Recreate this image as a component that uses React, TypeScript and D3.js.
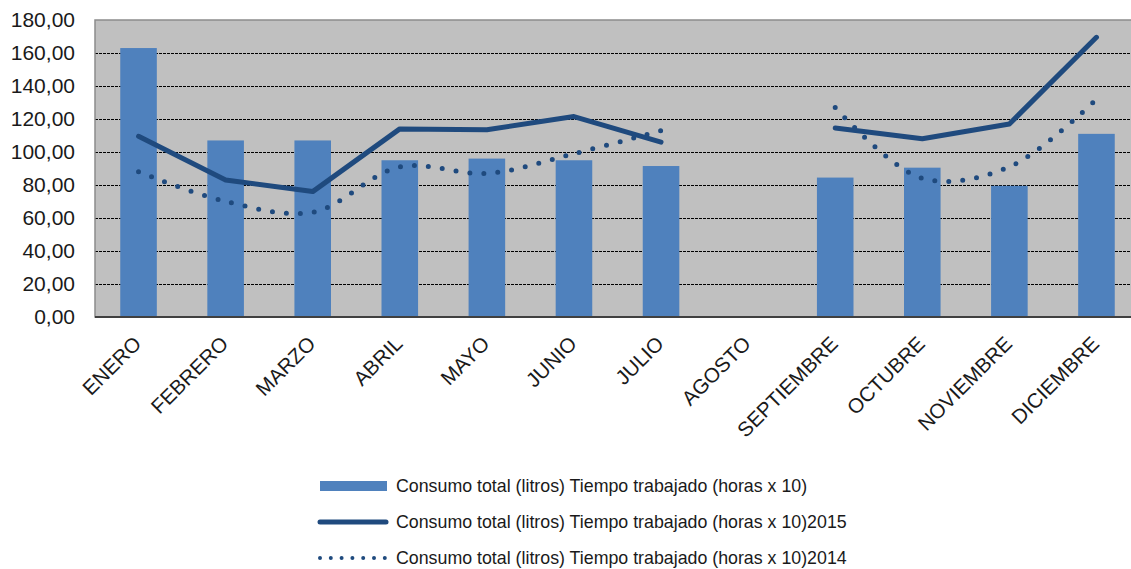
import React, { useEffect, useRef } from 'react';
import * as d3 from 'd3';

const months = [
  'ENERO', 'FEBRERO', 'MARZO', 'ABRIL', 'MAYO', 'JUNIO',
  'JULIO', 'AGOSTO', 'SEPTIEMBRE', 'OCTUBRE', 'NOVIEMBRE', 'DICIEMBRE',
];
const consumo: (number | null)[] = [163, 107, 107, 95, 96, 95, 91.5, null, 84.5, 90.5, 79.5, 111];
const serie2015: (number | null)[] = [109.5, 83, 76, 114, 113.5, 121.5, 106, null, 114.5, 108, 117, 169.5];
const serie2014: (number | null)[] = [88, 70, 63.5, 91, 87, 99, 113, null, 127, 84, 91, 132];
const yTicks = [0, 20, 40, 60, 80, 100, 120, 140, 160, 180];
const legendLabels = [
  'Consumo total (litros) Tiempo trabajado (horas x 10)',
  'Consumo total (litros) Tiempo trabajado (horas x 10)2015',
  'Consumo total (litros) Tiempo trabajado (horas x 10)2014',
];

const W = 1131;
const H = 569;
const BAR = '#4F81BD';
const LINE = '#1F4A7E';
const FONT = 'Arial, Liberation Sans, sans-serif';

export default function App() {
  const ref = useRef<SVGSVGElement>(null);

  useEffect(() => {
    const margin = { top: 20, left: 95 };
    const width = 1045; // plot runs a little past the right edge
    const height = 297;

    const root = d3.select(ref.current);
    root.selectAll('*').remove();

    const svg = root.append('g').attr('transform', `translate(${margin.left},${margin.top})`);

    const x = d3.scaleBand().domain(months).range([0, width]).paddingInner(0.58).paddingOuter(0.29);
    const xc = (i: number) => (x(months[i]) as number) + x.bandwidth() / 2;
    const y = d3.scaleLinear().domain([0, 180]).range([height, 0]);

    svg.append('rect').attr('width', width).attr('height', height).attr('fill', '#C0C0C0');

    // gridlines
    svg
      .selectAll('line.grid')
      .data(yTicks.filter((t) => t > 0 && t < 180))
      .enter()
      .append('line')
      .attr('class', 'grid')
      .attr('x1', 0)
      .attr('x2', width)
      .attr('y1', (d) => y(d) + 0.5)
      .attr('y2', (d) => y(d) + 0.5)
      .attr('stroke', '#000')
      .attr('stroke-width', 1)
      .attr('stroke-dasharray', '3,1');

    // bars
    svg
      .selectAll('rect.bar')
      .data(consumo.map((v, i) => ({ v, i })).filter((d) => d.v != null))
      .enter()
      .append('rect')
      .attr('class', 'bar')
      .attr('x', (d) => x(months[d.i]) as number)
      .attr('width', x.bandwidth())
      .attr('y', (d) => y(d.v as number))
      .attr('height', (d) => height - y(d.v as number))
      .attr('fill', BAR);

    const lineGen = d3
      .line<number | null>()
      .defined((d) => d != null)
      .x((_, i) => xc(i))
      .y((d) => y(d as number));

    svg
      .append('path')
      .attr('d', lineGen.curve(d3.curveCatmullRom.alpha(0.5))(serie2014))
      .attr('fill', 'none')
      .attr('stroke', LINE)
      .attr('stroke-width', 5)
      .attr('stroke-linecap', 'round')
      .attr('stroke-dasharray', '0,14');

    svg
      .append('path')
      .attr('d', lineGen.curve(d3.curveLinear)(serie2015))
      .attr('fill', 'none')
      .attr('stroke', LINE)
      .attr('stroke-width', 5)
      .attr('stroke-linecap', 'round')
      .attr('stroke-linejoin', 'round');

    // frame
    svg
      .append('rect')
      .attr('width', width)
      .attr('height', height)
      .attr('fill', 'none')
      .attr('stroke', '#8C8C8C')
      .attr('stroke-width', 1.5);
    svg
      .append('line')
      .attr('x1', 0)
      .attr('x2', width)
      .attr('y1', height)
      .attr('y2', height)
      .attr('stroke', '#404040')
      .attr('stroke-width', 2);

    // y labels
    svg
      .selectAll('text.ylab')
      .data(yTicks)
      .enter()
      .append('text')
      .attr('class', 'ylab')
      .attr('x', -20)
      .attr('y', (d) => y(d))
      .attr('dy', '0.35em')
      .attr('text-anchor', 'end')
      .attr('font-family', FONT)
      .attr('font-size', 21)
      .attr('fill', '#1a1a1a')
      .text((d) => d3.format('.2f')(d).replace('.', ','));

    // x labels
    svg
      .selectAll('text.xlab')
      .data(months)
      .enter()
      .append('text')
      .attr('class', 'xlab')
      .attr('transform', (_, i) => `translate(${xc(i) + 4},${height + 28}) rotate(-45)`)
      .attr('text-anchor', 'end')
      .attr('font-family', FONT)
      .attr('font-size', 20.5)
      .attr('fill', '#1a1a1a')
      .text((d) => d);

    // legend
    const lg = root.append('g');
    const rows = [486, 522, 558];
    legendLabels.forEach((label, i) => {
      const ly = rows[i];
      if (i === 0) {
        lg.append('rect').attr('x', 320).attr('y', ly - 5).attr('width', 67).attr('height', 10).attr('fill', BAR);
      } else if (i === 1) {
        lg.append('line').attr('x1', 320).attr('x2', 386).attr('y1', ly).attr('y2', ly)
          .attr('stroke', LINE).attr('stroke-width', 5).attr('stroke-linecap', 'round');
      } else {
        lg.append('line').attr('x1', 320).attr('x2', 386).attr('y1', ly).attr('y2', ly)
          .attr('stroke', LINE).attr('stroke-width', 4).attr('stroke-linecap', 'round')
          .attr('stroke-dasharray', '0,10.8');
      }
      lg.append('text')
        .attr('x', 396)
        .attr('y', ly)
        .attr('dy', '0.35em')
        .attr('font-family', FONT)
        .attr('font-size', 17.8)
        .attr('fill', '#1a1a1a')
        .text(label);
    });
  }, []);

  return (
    <div style={{ position: 'absolute', left: 0, top: 0 }}>
      <svg ref={ref} width={W} height={H} style={{ display: 'block', background: '#fff' }} />
    </div>
  );
}
